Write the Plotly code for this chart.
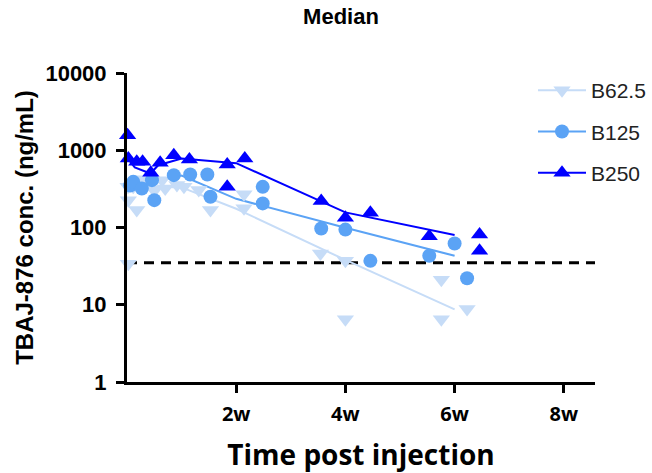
import plotly.graph_objects as go

# ---- data (days post injection, ng/mL) ----
days_62 = [0.13, 0.17, 0.17, 0.8, 1.25, 1.4, 2.2, 3.5, 4.5, 4.9, 6.4, 7.3, 9.2, 10.7, 15, 15, 24.8, 28, 28, 40.3, 40.3, 43.6]
conc_62 = [336, 226, 34, 336, 168, 372, 420, 300, 410, 320, 354, 336, 305, 168, 269, 177, 46, 37, 6.5, 21, 6.5, 8.8]

days_125 = [0.4, 0.8, 1.9, 3.2, 3.5, 6.0, 8.1, 10.3, 10.7, 17.4, 17.4, 24.9, 28, 31.2, 38.75, 42, 43.6]
conc_125 = [350, 390, 320, 410, 226, 476, 486, 486, 250, 336, 205, 97, 94, 37, 43, 62, 22]

days_250 = [0.08, 0.17, 1.25, 2.0, 3.05, 4.25, 6.0, 8.0, 12.85, 12.85, 15.1, 24.9, 28, 31.2, 38.75, 45.2, 45.2]
conc_250 = [1560, 780, 710, 710, 510, 690, 860, 760, 655, 336, 780, 220, 134, 155, 77, 81, 50]

line_days_62 = [0.1, 1, 3, 7, 14, 28, 42]
line_62 = [330, 400, 340, 330, 175, 38, 8.7]
line_days_125 = [0.1, 1, 3, 7, 14, 28, 42]
line_125 = [420, 380, 390, 470, 235, 99, 43]
line_days_250 = [0.1, 1, 3, 4, 7, 14, 28, 42]
line_250 = [780, 600, 500, 640, 780, 680, 157, 80]

lloq_x = [0, 60.5]
lloq = 35

x_tickvals = [14, 28, 42, 56]
x_ticktext = ["2w", "4w", "6w", "8w"]
y_tickvals = [1, 10, 100, 1000, 10000]
y_ticktext = ["1", "10", "100", "1000", "10000"]

names = ["B62.5", "B125", "B250"]
colors = ["#C6DCF7", "#5BA3F5", "#0000FF"]
symbols = ["triangle-down", "circle", "triangle-up"]
sizes = [15, 14, 15]

fig = go.Figure()

fig.add_trace(go.Scatter(x=lloq_x, y=[lloq, lloq], mode="lines",
                         line=dict(color="black", width=3, dash="10px,7px"),
                         showlegend=False, cliponaxis=False, hoverinfo="skip"))

series = [(days_62, conc_62, line_days_62, line_62),
          (days_125, conc_125, line_days_125, line_125),
          (days_250, conc_250, line_days_250, line_250)]

for i, (dx, dy, lx, ly) in enumerate(series):
    fig.add_trace(go.Scatter(x=lx, y=ly, mode="lines",
                             line=dict(color=colors[i], width=2),
                             showlegend=False, legendgroup=names[i], cliponaxis=False))
for i, (dx, dy, lx, ly) in enumerate(series):
    fig.add_trace(go.Scatter(x=dx, y=dy, mode="markers",
                             marker=dict(color=colors[i], symbol=symbols[i], size=sizes[i], line=dict(width=0)),
                             showlegend=False, legendgroup=names[i], cliponaxis=False))
    # legend entry (line + marker)
    fig.add_trace(go.Scatter(x=[None], y=[None], mode="lines+markers", name=names[i],
                             line=dict(color=colors[i], width=2),
                             marker=dict(color=colors[i], symbol=symbols[i], size=sizes[i], line=dict(width=0)),
                             legendgroup=names[i], showlegend=True))

fig.update_layout(
    width=652, height=473,
    margin=dict(l=127, r=57, t=73, b=91, autoexpand=False),
    paper_bgcolor="white", plot_bgcolor="white",
    title=dict(text="<b>Median</b>", x=341/652, xanchor="center", xref="container",
               y=1 - 9/473, yanchor="top", yref="container",
               font=dict(family="Arial, Liberation Sans", size=22, color="black")),
    legend=dict(x=533/652, y=1 - 70/473, xref="container", yref="container",
                xanchor="left", yanchor="top",
                font=dict(family="Arial, Liberation Sans", size=21, color="#222"),
                tracegroupgap=11, itemwidth=48, bgcolor="rgba(0,0,0,0)"),
    xaxis=dict(range=[0, 60], showgrid=False, zeroline=False, automargin=False,
               showline=True, linecolor="black", linewidth=3,
               ticks="outside", ticklen=8, tickwidth=3, tickcolor="black",
               tickvals=x_tickvals, ticktext=x_ticktext, ticklabelstandoff=4,
               tickfont=dict(family="Open Sans", size=20, color="black", weight="bold"),
               title=dict(text="<b>Time post injection</b>", standoff=29,
                          font=dict(family="Open Sans", size=28, color="black"))),
    yaxis=dict(type="log", range=[0, 4], showgrid=False, zeroline=False, automargin=False,
               showline=True, linecolor="black", linewidth=3,
               ticks="outside", ticklen=8, tickwidth=3, tickcolor="black",
               tickvals=y_tickvals, ticktext=y_ticktext, ticklabelstandoff=5,
               tickfont=dict(family="Arial, Liberation Sans", size=22, color="black", weight="bold"),
               title=dict(text="<b>TBAJ-876 conc. (ng/mL)</b>", standoff=6,
                          font=dict(family="Arial, Liberation Sans", size=24, color="black"))),
)

fig.write_html("out.html")
